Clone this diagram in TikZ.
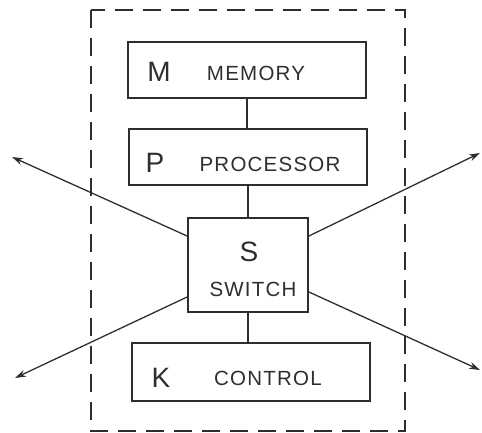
\documentclass[tikz,border=0pt]{standalone}
\usepackage{fontspec}
\setmainfont{Liberation Sans}
\usetikzlibrary{arrows.meta,calc}
\definecolor{ink}{gray}{0.18}
\tikzset{
  box/.style={draw=ink,line width=1.8pt,rectangle,inner sep=0pt},
  big/.style={text=ink,inner sep=0pt,font=\fontsize{28}{30}\selectfont},
  small/.style={text=ink,inner sep=0pt,font=\fontsize{20.5}{24}\selectfont\addfontfeatures{LetterSpace=6}},
  link/.style={draw=ink,line width=1.2pt},
  outarrow/.style={draw=ink,line width=1.3pt,-{Stealth[length=11pt,width=7pt]}},
  frame/.style={draw=ink,line width=1.4pt,dash pattern=on 18pt off 10pt}
}
\begin{document}
\begin{tikzpicture}[x=1pt,y=-1pt]
\useasboundingbox (0,0) rectangle (482,433);
\draw[frame] (91,10) rectangle (405,431);
\node[box,minimum width=238pt,minimum height=56pt] (mem) at (247,70) {};
\node[box,minimum width=238pt,minimum height=56pt] (proc) at (248,157) {};
\node[box,minimum width=120pt,minimum height=94pt] (sw) at (248,265) {};
\node[box,minimum width=238pt,minimum height=58pt] (ctl) at (251,372) {};
\node[big] (mL) at (159,72) {M};
\node[small] (mT) at (256,73) {MEMORY};
\node[big] (pL) at (155,163) {P};
\node[small] (pT) at (270,164) {PROCESSOR};
\node[big] (sL) at (249,252) {S};
\node[small] (sT) at (253,289) {SWITCH};
\node[big] (kL) at (161,378) {K};
\node[small] (kT) at (268,378) {CONTROL};
\draw[link] (mem.south) -- (mem.south |- proc.north);
\draw[link] (proc.south) -- (proc.south |- sw.north);
\draw[link] (sw.south) -- (sw.south |- ctl.north);
\coordinate (tl) at (12,157);
\coordinate (tr) at (480,153);
\coordinate (bl) at (15,378);
\coordinate (br) at (480,370);
\draw[outarrow] ([yshift=29pt]sw.west) -- (tl);
\draw[outarrow] ([yshift=29pt]sw.east) -- (tr);
\draw[outarrow] ([yshift=-32pt]sw.west) -- (bl);
\draw[outarrow] ([yshift=-27pt]sw.east) -- (br);
\end{tikzpicture}
\end{document}
